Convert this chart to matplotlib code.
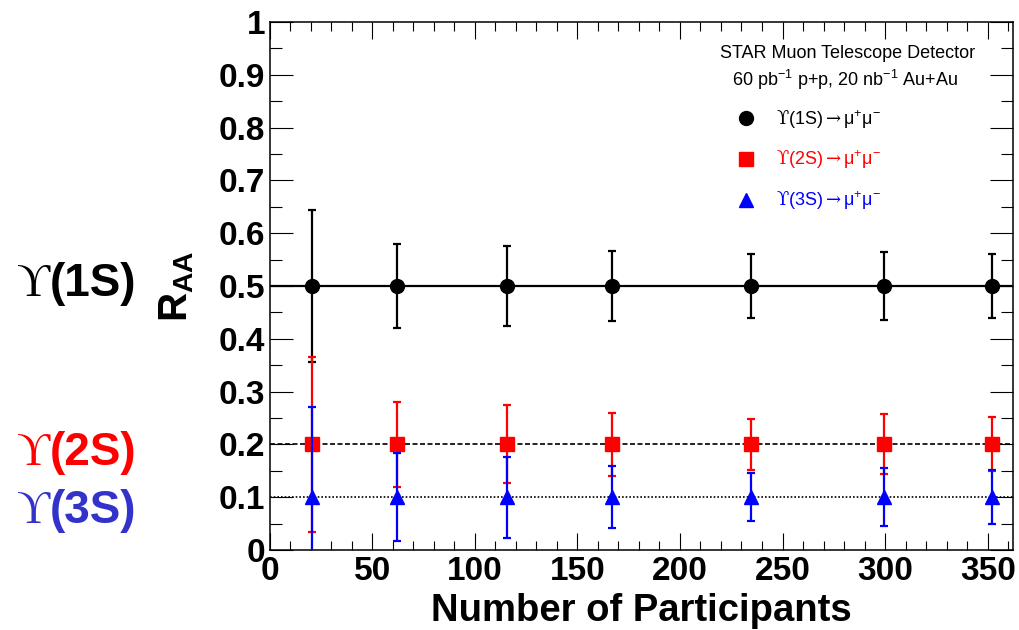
import matplotlib
matplotlib.use("Agg")
import matplotlib.pyplot as plt
from matplotlib.lines import Line2D
from matplotlib.ticker import MultipleLocator, FuncFormatter

plt.rcParams['font.family'] = ['Liberation Sans', 'DejaVu Sans']
plt.rcParams['mathtext.fontset'] = 'custom'
plt.rcParams['mathtext.rm'] = 'Liberation Sans'
plt.rcParams['mathtext.bf'] = 'Liberation Sans:bold'
plt.rcParams['mathtext.it'] = 'Liberation Sans:italic'
plt.rcParams['mathtext.tt'] = 'DejaVu Serif'

# data
n_part = [20.7, 62.3, 115.6, 166.8, 234.5, 299.2, 352.0]

raa_1s = [0.5, 0.5, 0.5, 0.5, 0.5, 0.5, 0.5]
err_1s = [0.143, 0.080, 0.075, 0.066, 0.060, 0.064, 0.060]

raa_2s = [0.2, 0.2, 0.2, 0.2, 0.2, 0.2, 0.2]
err_2s = [0.166, 0.080, 0.074, 0.059, 0.048, 0.057, 0.051]

raa_3s = [0.1, 0.1, 0.1, 0.1, 0.1, 0.1, 0.1]
err_3s = [0.170, 0.083, 0.077, 0.059, 0.046, 0.055, 0.051]

# expected suppression levels (horizontal reference lines)
level_1s = 0.5
level_2s = 0.2
level_3s = 0.1

labels = [r'$\mathtt{ϒ}$(1S)$\mathtt{\rightarrow}$μ$^{+}$μ$^{-}$',
          r'$\mathtt{ϒ}$(2S)$\mathtt{\rightarrow}$μ$^{+}$μ$^{-}$',
          r'$\mathtt{ϒ}$(3S)$\mathtt{\rightarrow}$μ$^{+}$μ$^{-}$']

W, H = 1019, 630
fig = plt.figure(figsize=(W / 100, H / 100), dpi=100)
ax = fig.add_axes([269.5 / W, 1 - 550 / H, (1013 - 269.5) / W, (550 - 22) / H])

ax.set_xlim(0, 362.3)
ax.set_ylim(0, 1)

ax.axhline(level_1s, color='black', lw=1.6, zorder=1)
ax.axhline(level_2s, color='black', lw=1.2, ls=(0, (3, 1.5)), zorder=1)
ax.axhline(level_3s, color='black', lw=1.2, ls=(0, (1, 1.2)), zorder=1)

ax.errorbar(n_part, raa_1s, yerr=err_1s, fmt='o', color='black', ms=10,
            elinewidth=1.6, capsize=3, capthick=1.6, zorder=3)
ax.errorbar(n_part, raa_2s, yerr=err_2s, fmt='s', color='red', ms=9.5,
            elinewidth=1.6, capsize=3, capthick=1.6, zorder=3)
ax.errorbar(n_part, raa_3s, yerr=err_3s, fmt='^', color='blue', ms=9.5,
            elinewidth=1.6, capsize=3, capthick=1.6, zorder=4)

# axes styling, ROOT-like
ax.xaxis.set_major_locator(MultipleLocator(50))
ax.xaxis.set_minor_locator(MultipleLocator(10))
ax.yaxis.set_major_locator(MultipleLocator(0.1))
ax.yaxis.set_minor_locator(MultipleLocator(0.05))
ax.yaxis.set_major_formatter(FuncFormatter(lambda v, p: '%g' % round(v, 2)))
ax.tick_params(which='both', direction='in', top=True, right=True, width=0.8)
ax.tick_params(axis='x', which='major', length=12.2, pad=4)
ax.tick_params(axis='x', which='minor', length=6.5)
ax.tick_params(axis='y', which='major', length=16.5, pad=3)
ax.tick_params(axis='y', which='minor', length=8.6)
for lab in ax.get_xticklabels() + ax.get_yticklabels():
    lab.set_fontsize(24)
    lab.set_fontweight('bold')
for s in ax.spines.values():
    s.set_linewidth(1.1)

ax.set_xlabel('Number of Participants', fontsize=27.5, fontweight='bold')
ax.xaxis.set_label_coords(0.5, -0.082)
ax.set_ylabel(r'$\mathbf{R_{AA}}$', fontsize=29)
ax.yaxis.set_label_coords(-0.099, 0.5)

# header text
ax.text(975 / W, 1 - 53 / H, 'STAR Muon Telescope Detector', transform=fig.transFigure,
        ha='right', va='center', fontsize=13)
ax.text(958 / W, 1 - 80 / H, '60 pb$^{-1}$ p+p, 20 nb$^{-1}$ Au+Au', transform=fig.transFigure,
        ha='right', va='center', fontsize=13)

handles = [
    Line2D([], [], marker='o', color='black', ls='none', ms=10),
    Line2D([], [], marker='s', color='red', ls='none', ms=9.5),
    Line2D([], [], marker='^', color='blue', ls='none', ms=9.5),
]
leg = fig.legend(handles, labels, loc='upper left', bbox_to_anchor=(737 / W, 1 - 108 / H),
                 frameon=False, fontsize=13, handlelength=1.0, handletextpad=1.17,
                 borderpad=0, borderaxespad=0, labelspacing=1.0)
for t, c in zip(leg.get_texts(), ['black', 'red', 'blue']):
    t.set_color(c)

# big state labels on the left
states = ['(1S)', '(2S)', '(3S)']
state_colors = ['black', '#ff0000', '#3333cc']
state_base = [296, 465, 523]
for st, c, yb in zip(states, state_colors, state_base):
    fig.text(50 / W, 1 - yb / H, 'ϒ', family=['Liberation Serif', 'DejaVu Serif'],
             fontsize=33, color=c, ha='right', va='baseline')
    fig.text(50 / W, 1 - yb / H, st, fontsize=33, fontweight='bold', color=c,
             ha='left', va='baseline')

fig.savefig('out.png', dpi=100)
